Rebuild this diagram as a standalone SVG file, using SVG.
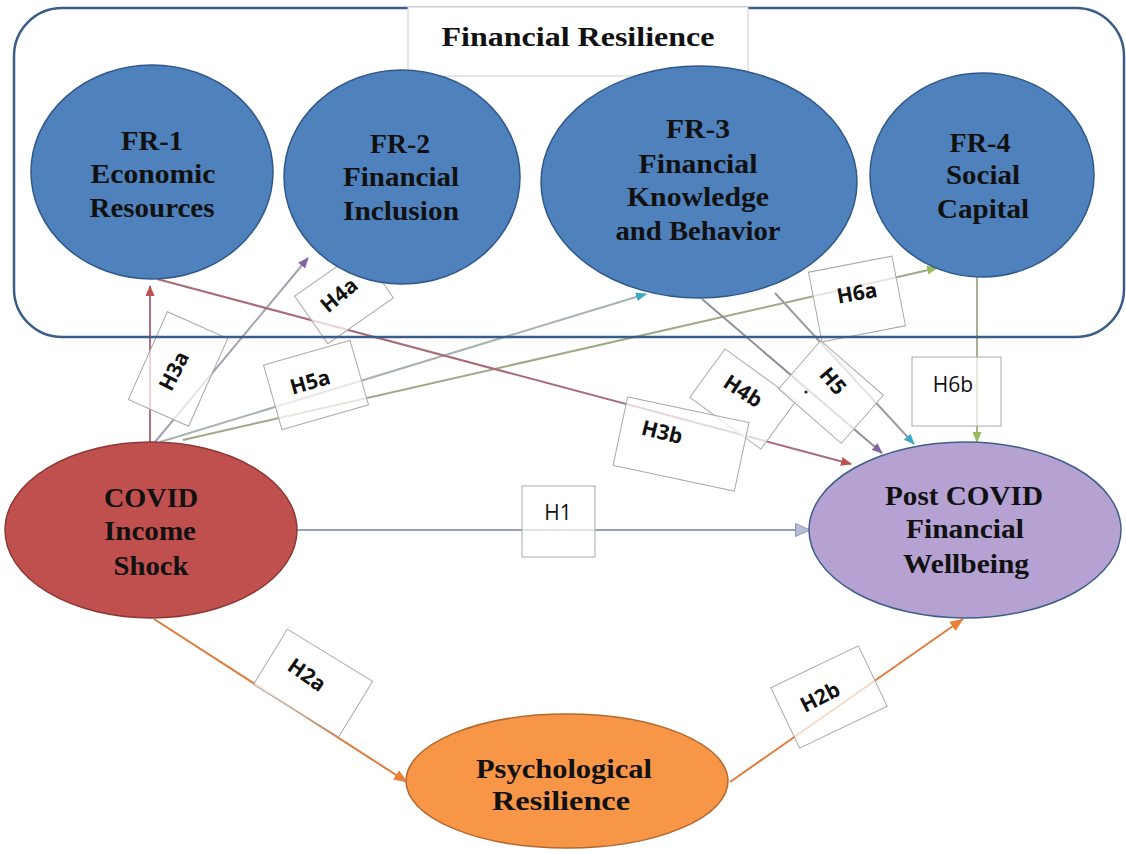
<svg xmlns="http://www.w3.org/2000/svg" width="1126" height="854" viewBox="0 0 1126 854">
  <style>
    .node-text { font-family: "Liberation Serif", "Times New Roman", serif; font-weight: bold; font-size: 27px; fill: #111; text-anchor: middle; }
    .lbl-box { fill: #ffffff; fill-opacity: 0.72; stroke: #a9a9a9; stroke-width: 1; }
    .lbl { font-family: "Open Sans", "Liberation Sans", sans-serif; font-size: 21px; fill: #111; text-anchor: middle; }
    .lbl-b { font-weight: bold; }
    .edge { fill: none; stroke-width: 2; }
    .fr { fill: #4f81bd; stroke: #30598a; stroke-width: 1.5; }
  </style>
  <defs>
    <marker id="ah-red" markerUnits="userSpaceOnUse" markerWidth="11" markerHeight="9" refX="10" refY="4.5" orient="auto">
      <path d="M0,0 L11,4.5 L0,9 Z" fill="#c0504d"/>
    </marker>
    <marker id="ah-purple" markerUnits="userSpaceOnUse" markerWidth="11" markerHeight="9" refX="10" refY="4.5" orient="auto">
      <path d="M0,0 L11,4.5 L0,9 Z" fill="#8064a2"/>
    </marker>
    <marker id="ah-teal" markerUnits="userSpaceOnUse" markerWidth="11" markerHeight="9" refX="10" refY="4.5" orient="auto">
      <path d="M0,0 L11,4.5 L0,9 Z" fill="#3fa9c5"/>
    </marker>
    <marker id="ah-green" markerUnits="userSpaceOnUse" markerWidth="11" markerHeight="9" refX="10" refY="4.5" orient="auto">
      <path d="M0,0 L11,4.5 L0,9 Z" fill="#9bbb59"/>
    </marker>
    <marker id="ah-blue" markerUnits="userSpaceOnUse" markerWidth="16" markerHeight="14" refX="15" refY="7" orient="auto">
      <path d="M0.5,0.5 L15,7 L0.5,13.5 Z" fill="#b8bcdc" stroke="#9095b8" stroke-width="1"/>
    </marker>
    <marker id="ah-orange" markerUnits="userSpaceOnUse" markerWidth="14" markerHeight="11" refX="13" refY="5.5" orient="auto">
      <path d="M0,0 L14,5.5 L0,11 Z" fill="#e8803a"/>
    </marker>
  </defs>

  <rect width="1126" height="854" fill="#ffffff"/>

  <!-- connectors -->
  <g id="connectors">
    <line id="e-H3a" class="edge" x1="150" y1="443" x2="150" y2="286" stroke="#b0707c" marker-end="url(#ah-red)"/>
    <line id="e-H4a" class="edge" x1="155" y1="442" x2="308" y2="258" stroke="#a2a2b2" marker-end="url(#ah-purple)"/>
    <line id="e-H5a" class="edge" x1="160" y1="442" x2="646" y2="294" stroke="#a8b2b0" marker-end="url(#ah-teal)"/>
    <line id="e-H6a" class="edge" x1="183" y1="440" x2="937" y2="268" stroke="#a0a888" marker-end="url(#ah-green)"/>
    <line id="e-H3b" class="edge" x1="157" y1="279" x2="851" y2="464" stroke="#a86c78" marker-end="url(#ah-red)"/>
    <line id="e-H4b" class="edge" x1="702" y1="299" x2="882" y2="453" stroke="#8e8e9c" marker-end="url(#ah-purple)"/>
    <line id="e-H5" class="edge" x1="775" y1="293" x2="914" y2="444" stroke="#9a9ca2" marker-end="url(#ah-teal)"/>
    <line id="e-H6b" class="edge" x1="977" y1="277" x2="977" y2="442" stroke="#a8b092" marker-end="url(#ah-green)"/>
    <line id="e-H1" class="edge" x1="297" y1="530" x2="810" y2="530" stroke="#9aa2bc" marker-end="url(#ah-blue)"/>
    <line id="e-H2a" class="edge" x1="154" y1="619" x2="407" y2="782" stroke="#dd7b3c" marker-end="url(#ah-orange)"/>
    <line id="e-H2b" class="edge" x1="730" y1="782" x2="963" y2="619" stroke="#dd7b3c" marker-end="url(#ah-orange)"/>

    <!-- hypothesis labels -->
    <g id="lbl-H3a">
      <rect class="lbl-box" transform="translate(178,369) rotate(-66)" x="-48" y="-33" width="96" height="66"/>
      <text class="lbl lbl-b" transform="translate(174,371) rotate(-63)" dy="0.35em">H3a</text>
    </g>
    <g id="lbl-H4a">
      <rect class="lbl-box" transform="translate(344,297) rotate(-35)" x="-40" y="-29" width="80" height="58"/>
      <text class="lbl lbl-b" transform="translate(339,295) rotate(-40)" dy="0.35em">H4a</text>
    </g>
    <g id="lbl-H5a">
      <rect class="lbl-box" transform="translate(316,385) rotate(-16)" x="-45" y="-33.5" width="90" height="67"/>
      <text class="lbl lbl-b" transform="translate(310,382) rotate(-16)" dy="0.35em">H5a</text>
    </g>
    <g id="lbl-H6a">
      <rect class="lbl-box" transform="translate(857,299) rotate(-11)" x="-42.5" y="-35.5" width="85" height="71"/>
      <text class="lbl lbl-b" transform="translate(857,293) rotate(-10)" dy="0.35em">H6a</text>
    </g>
    <g id="lbl-H4b">
      <rect class="lbl-box" transform="translate(743,399) rotate(36)" x="-44" y="-30" width="88" height="60"/>
      <text class="lbl lbl-b" transform="translate(743,391) rotate(33)" dy="0.35em">H4b</text>
    </g>
    <g id="lbl-H3b">
      <rect class="lbl-box" transform="translate(681,444) rotate(12)" x="-62" y="-35" width="124" height="70"/>
      <text class="lbl lbl-b" transform="translate(662,432) rotate(14)" dy="0.35em">H3b</text>
    </g>
    <g id="lbl-H5">
      <rect class="lbl-box" transform="translate(831,392) rotate(41)" x="-41.5" y="-32" width="83" height="64"/>
      <text class="lbl lbl-b" transform="translate(833,381) rotate(50)" dy="0.35em">H5</text>
      <circle cx="806" cy="392" r="1.6" fill="#222"/>
    </g>
    <g id="lbl-H6b">
      <rect class="lbl-box" x="912" y="357" width="89" height="69"/>
      <text class="lbl" x="953" y="385" dy="0.35em">H6b</text>
    </g>
    <g id="lbl-H1">
      <rect class="lbl-box" x="522" y="486" width="73" height="71"/>
      <text class="lbl" x="558" y="513" dy="0.35em">H1</text>
    </g>
    <g id="lbl-H2a">
      <rect class="lbl-box" transform="translate(313,683) rotate(31.5)" x="-50" y="-32.5" width="100" height="65"/>
      <text class="lbl lbl-b" transform="translate(307,675) rotate(35)" dy="0.35em">H2a</text>
    </g>
    <g id="lbl-H2b">
      <rect class="lbl-box" transform="translate(829,697) rotate(-25.5)" x="-48.5" y="-33.5" width="97" height="67"/>
      <text class="lbl lbl-b" transform="translate(820,697) rotate(-27)" dy="0.35em">H2b</text>
    </g>
  </g>

  <!-- financial resilience container -->
  <g id="financial-resilience">
    <rect x="14" y="8" width="1110" height="329" rx="48" ry="48" fill="none" stroke="#3a5d87" stroke-width="2.5"/>
    <rect x="408" y="7" width="340" height="69" fill="#ffffff" stroke="#c8ccd2" stroke-width="1"/>
    <text class="node-text" x="578" y="46" font-size="28" textLength="273" lengthAdjust="spacingAndGlyphs">Financial Resilience</text>
  </g>

  <g id="node-fr1">
    <ellipse class="fr" cx="152" cy="172" rx="121" ry="107"/>
    <text class="node-text" x="152" y="150" textLength="62" lengthAdjust="spacingAndGlyphs">FR-1</text>
    <text class="node-text" x="153" y="183" textLength="125" lengthAdjust="spacingAndGlyphs">Economic</text>
    <text class="node-text" x="152" y="217" textLength="125" lengthAdjust="spacingAndGlyphs">Resources</text>
  </g>

  <g id="node-fr2">
    <ellipse class="fr" cx="402" cy="177" rx="118" ry="107"/>
    <text class="node-text" x="400" y="153" textLength="60" lengthAdjust="spacingAndGlyphs">FR-2</text>
    <text class="node-text" x="401" y="186" textLength="116" lengthAdjust="spacingAndGlyphs">Financial</text>
    <text class="node-text" x="401" y="220" textLength="116" lengthAdjust="spacingAndGlyphs">Inclusion</text>
  </g>

  <g id="node-fr3">
    <ellipse class="fr" cx="699" cy="182" rx="158" ry="116"/>
    <text class="node-text" x="698" y="138" textLength="64" lengthAdjust="spacingAndGlyphs">FR-3</text>
    <text class="node-text" x="698" y="173" textLength="119" lengthAdjust="spacingAndGlyphs">Financial</text>
    <text class="node-text" x="698" y="206" textLength="142" lengthAdjust="spacingAndGlyphs">Knowledge</text>
    <text class="node-text" x="698" y="240" textLength="165" lengthAdjust="spacingAndGlyphs">and Behavior</text>
  </g>

  <g id="node-fr4">
    <ellipse class="fr" cx="982" cy="175" rx="112" ry="102"/>
    <text class="node-text" x="980" y="152" textLength="61" lengthAdjust="spacingAndGlyphs">FR-4</text>
    <text class="node-text" x="983" y="184" textLength="74" lengthAdjust="spacingAndGlyphs">Social</text>
    <text class="node-text" x="983" y="218" textLength="92" lengthAdjust="spacingAndGlyphs">Capital</text>
  </g>

  <g id="node-covid-shock">
    <ellipse cx="151" cy="530" rx="146" ry="88" fill="#c0504d" stroke="#8c3836" stroke-width="1.5"/>
    <text class="node-text" x="151" y="507" textLength="94" lengthAdjust="spacingAndGlyphs">COVID</text>
    <text class="node-text" x="150" y="540" textLength="92" lengthAdjust="spacingAndGlyphs">Income</text>
    <text class="node-text" x="151" y="575" textLength="75" lengthAdjust="spacingAndGlyphs">Shock</text>
  </g>

  <g id="node-wellbeing">
    <ellipse cx="965" cy="530" rx="156" ry="88" fill="#b5a2d3" stroke="#3e5f8a" stroke-width="1.5"/>
    <text class="node-text" x="964" y="505" textLength="158" lengthAdjust="spacingAndGlyphs">Post COVID</text>
    <text class="node-text" x="965" y="538" textLength="118" lengthAdjust="spacingAndGlyphs">Financial</text>
    <text class="node-text" x="966" y="573" textLength="126" lengthAdjust="spacingAndGlyphs">Wellbeing</text>
  </g>

  <g id="node-psych">
    <ellipse cx="567" cy="781" rx="161" ry="67" fill="#f79646" stroke="#b4682e" stroke-width="1.5"/>
    <text class="node-text" x="564" y="778" textLength="176" lengthAdjust="spacingAndGlyphs">Psychological</text>
    <text class="node-text" x="561" y="810" textLength="138" lengthAdjust="spacingAndGlyphs">Resilience</text>
  </g>
</svg>
